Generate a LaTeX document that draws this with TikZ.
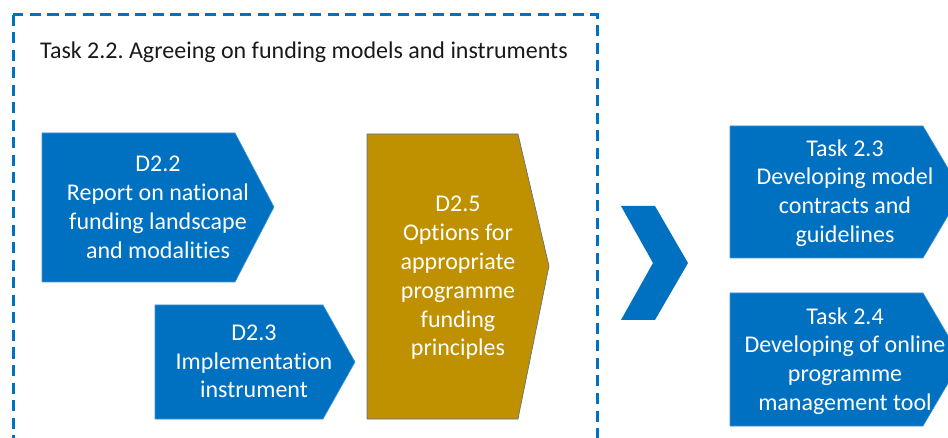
\documentclass[tikz,border=0pt]{standalone}
\usepackage{fontspec}
\setmainfont[Ligatures={NoCommon}]{Carlito}
\frenchspacing
\definecolor{taskblue}{RGB}{0,112,192}
\definecolor{taskgold}{RGB}{191,144,0}
\definecolor{edgegray}{RGB}{85,110,140}
\tikzset{
  frame/.style={draw=taskblue, line width=3pt, dash pattern=on 11pt off 6.5pt},
  bluebox/.style={fill=taskblue, draw=taskblue!75!white, line width=0.6pt},
  goldbox/.style={fill=taskgold, draw=edgegray, line width=0.6pt},
  boxtext/.style={text=white, align=center, inner sep=0pt,
    font=\fontsize{24}{28.8}\selectfont},
  title/.style={text=black!90, inner sep=0pt, font=\fontsize{24}{28}\selectfont},
}
\begin{document}
\begin{tikzpicture}[x=1pt, y=-1pt]
  \useasboundingbox (0,0) rectangle (948,438);
  \clip (0,0) rectangle (948,438);

  % task 2.2 frame
  \draw[frame] (13,15) rectangle (597,460);
  \node[title, anchor=base west] (t22) at (40,59)
    {Task 2.2. Agreeing on funding models and instruments};

  % deliverables
  \draw[bluebox] (42,133) -- (235,133) -- (274,207) -- (235,282) -- (42,282) -- cycle;
  \node[boxtext] (d22) at (158,207.5)
    {D2.2\\Report on national\\funding landscape\\and modalities};

  \draw[bluebox] (155,305) -- (323,305) -- (355,362) -- (323,419) -- (155,419) -- cycle;
  \node[boxtext] (d23) at (254,361.5) {D2.3\\Implementation\\instrument};

  \draw[goldbox] (367,134) -- (518,134) -- (549,266) -- (518,419) -- (367,419) -- cycle;
  \node[boxtext] (d25) at (458,278)
    {D2.5\\Options for\\appropriate\\programme\\funding\\principles};

  % chevron to the next tasks
  \fill[taskblue] (621,206) -- (655,206) -- (688,263) -- (655,320) -- (621,320)
    -- (653,263) -- cycle;

  % following tasks
  \draw[bluebox] (730,126) -- (923,126) -- (962,192) -- (923,258) -- (730,258) -- cycle;
  \node[boxtext] (t23) at (845,193)
    {Task 2.3\\Developing model\\contracts and\\guidelines};

  \draw[bluebox] (730,293) -- (923,293) -- (962,359.5) -- (923,426) -- (730,426) -- cycle;
  \node[boxtext] (t24) at (845,361)
    {Task 2.4\\Developing of online\\programme\\management tool};
\end{tikzpicture}
\end{document}
